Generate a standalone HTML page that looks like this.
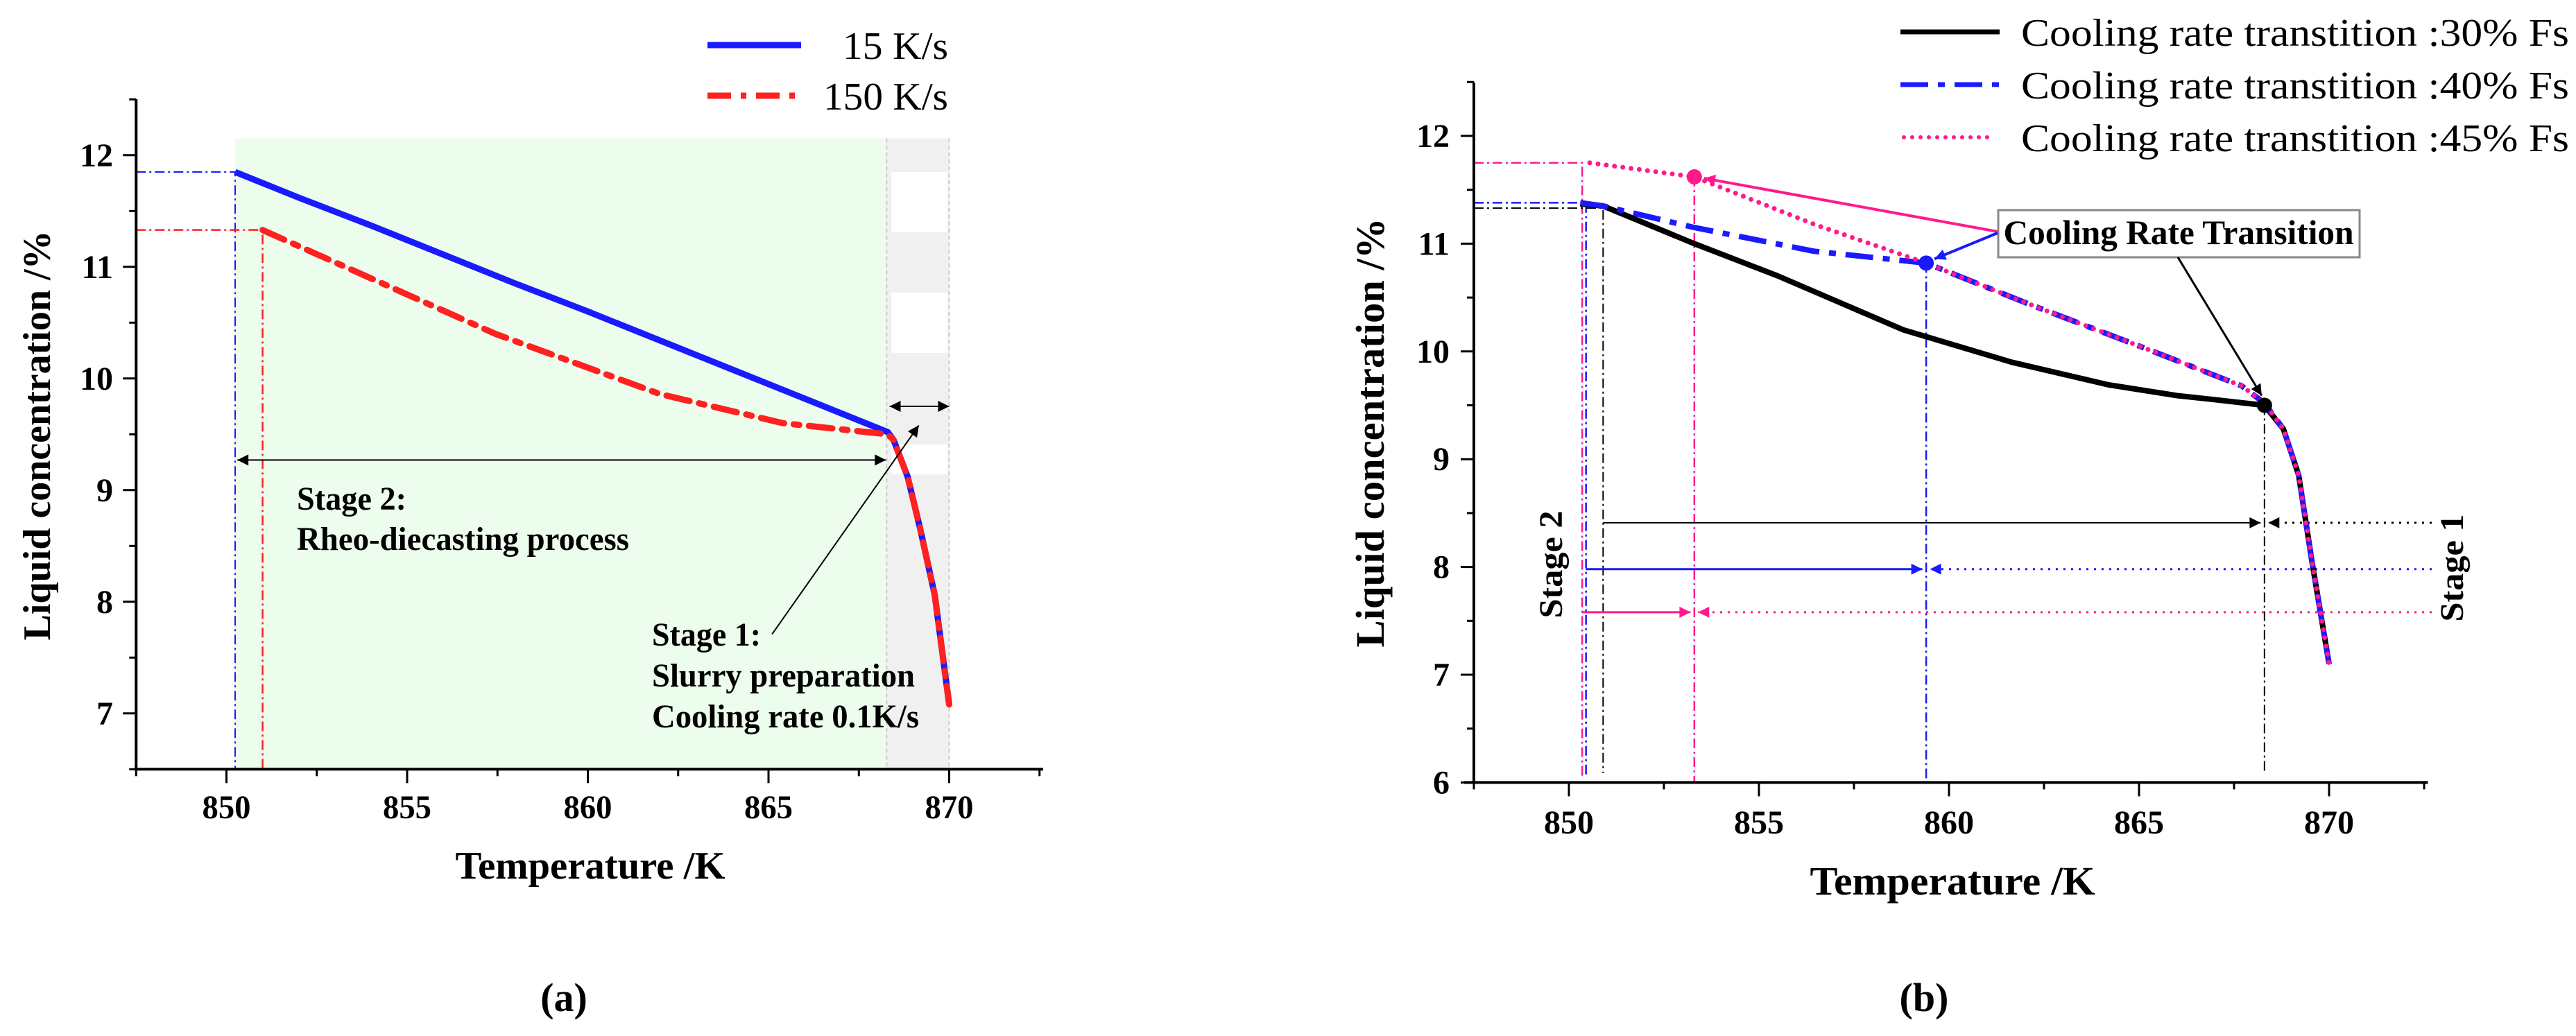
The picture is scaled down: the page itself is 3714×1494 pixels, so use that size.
<!DOCTYPE html>
<html><head><meta charset="utf-8">
<style>
html,body{margin:0;padding:0;background:#fff;}
svg{display:block;font-family:"Liberation Serif","DejaVu Serif",serif;}
svg text{font-family:"Liberation Serif","DejaVu Serif",serif;}
</style></head>
<body>
<svg id="fig" width="3714" height="1494" viewBox="0 0 3714 1494" xmlns="http://www.w3.org/2000/svg">
<defs>
<marker id="ahK2" viewBox="0 0 10 10" refX="10" refY="5" markerWidth="30" markerHeight="16" markerUnits="userSpaceOnUse" orient="auto-start-reverse"><path d="M0,0 L10,5 L0,10 z" fill="#000"/></marker>
<marker id="ahB" viewBox="0 0 10 10" refX="10" refY="5" markerWidth="30" markerHeight="16" markerUnits="userSpaceOnUse" orient="auto-start-reverse"><path d="M0,0 L10,5 L0,10 z" fill="#1a1aff"/></marker>
<marker id="ahP" viewBox="0 0 10 10" refX="10" refY="5" markerWidth="30" markerHeight="16" markerUnits="userSpaceOnUse" orient="auto-start-reverse"><path d="M0,0 L10,5 L0,10 z" fill="#ff1a8c"/></marker>
</defs>
</svg>
<script>
// ---- Chart (a) data ----
const aFastT = [850.24, 852, 854, 856, 858, 860, 862, 864, 866, 868.3, 868.46, 868.85, 869.2, 869.6, 870];
const aFastC = [11.85, 11.62, 11.37, 11.11, 10.85, 10.6, 10.34, 10.08, 9.82, 9.52, 9.45, 9.12, 8.65, 8.06, 7.08];
const aSlowT = [851, 853.56, 857.44, 862.0, 865.4, 868.3, 868.46, 868.85, 869.2, 869.6, 870];
const aSlowC = [11.33, 10.96, 10.40, 9.86, 9.60, 9.50, 9.45, 9.12, 8.65, 8.06, 7.08];
const aXTicks = [850, 855, 860, 865, 870];
const aYTicks = [7, 8, 9, 10, 11, 12];
// ---- Chart (b) data ----
const b30T = [850.3, 850.9, 853.3, 855.5, 858.8, 861.65, 864.2, 866.0, 866.8, 868.3, 868.8, 869.2, 869.55, 870];
const b30C = [11.37, 11.35, 11.0, 10.7, 10.2, 9.9, 9.69, 9.59, 9.56, 9.50, 9.28, 8.85, 8.05, 7.1];
const b40T = [850.3, 850.9, 853.3, 856.45, 859.4, 862.1, 865.3, 867.7, 868.3, 868.8, 869.2, 869.55, 870];
const b40C = [11.38, 11.35, 11.15, 10.93, 10.82, 10.44, 10.01, 9.68, 9.52, 9.28, 8.85, 8.05, 7.1];
const b45T = [850.55, 853.3, 856.45, 859.4, 862.1, 865.3, 867.7, 868.3, 868.8, 869.2, 869.55, 870];
const b45C = [11.75, 11.62, 11.18, 10.82, 10.44, 10.01, 9.68, 9.52, 9.28, 8.85, 8.05, 7.1];
const bTransT = [853.3, 859.4, 868.3];
const bTransC = [11.62, 10.82, 9.50];
const bXTicks = [850, 855, 860, 865, 870];
const bYTicks = [6, 7, 8, 9, 10, 11, 12];

const svg = document.getElementById('fig');
const NS = 'http://www.w3.org/2000/svg';
function mk(tag, attrs, name, parent) {
  const el = document.createElementNS(NS, tag);
  for (const k in attrs) el.setAttribute(k, attrs[k]);
  
  
  (parent || svg).appendChild(el);
  return el;
}
function txt(s, attrs, name, parent) { const t = mk('text', attrs, name, parent); t.textContent = s; return t; }

const ax = t => 326.5 + (t - 850) * 52.1;
const ay = v => 223.8 + (12 - v) * 161;
const bx = t => 2262 + (t - 850) * 54.8;
const by = v => 196 + (12 - v) * 155.4;
function pts(T, C, fx, fy) { return T.map((t, i) => fx(t).toFixed(1) + ',' + fy(C[i]).toFixed(1)).join(' '); }

// ================= Chart (a) =================
const ga = mk('g', {}, 'chart-a');
mk('rect', {x: ax(850.24), y: ay(12.15), width: ax(868.27) - ax(850.24), height: ay(6.5) - ay(12.15), fill: '#edfded'}, 'stage2-region', ga);
mk('rect', {x: ax(868.27), y: ay(12.15), width: ax(870) - ax(868.27), height: ay(6.5) - ay(12.15), fill: '#f0f0f0'}, 'stage1-region', ga);
mk('rect', {x: ax(868.4), y: ay(11.85), width: ax(869.95) - ax(868.4), height: ay(11.31) - ay(11.85), fill: '#fff'}, 'stage1-band', ga);
mk('rect', {x: ax(868.4), y: ay(10.77), width: ax(869.95) - ax(868.4), height: ay(10.23) - ay(10.77), fill: '#fff'}, 'stage1-band', ga);
mk('rect', {x: ax(868.4), y: ay(9.41), width: ax(869.95) - ax(868.4), height: ay(9.14) - ay(9.41), fill: '#fff'}, 'stage1-band', ga);
mk('line', {x1: ax(868.27), y1: ay(12.15), x2: ax(868.27), y2: ay(6.5), stroke: '#ccc', 'stroke-width': 2, 'stroke-dasharray': '6 4'}, 'region-border', ga);
mk('line', {x1: ax(870), y1: ay(12.15), x2: ax(870), y2: ay(6.5), stroke: '#ccc', 'stroke-width': 2, 'stroke-dasharray': '6 4'}, 'region-border', ga);
mk('polyline', {points: `${ax(847.5)},${ay(aFastC[0])} ${ax(aFastT[0])},${ay(aFastC[0])} ${ax(aFastT[0])},${ay(6.5)}`, fill: 'none', stroke: '#1a1aff', 'stroke-width': 2, 'stroke-dasharray': '14 5 3 5'}, 'guide-15ks', ga);
mk('polyline', {points: `${ax(847.5)},${ay(aSlowC[0])} ${ax(aSlowT[0])},${ay(aSlowC[0])} ${ax(aSlowT[0])},${ay(6.5)}`, fill: 'none', stroke: '#ff2020', 'stroke-width': 2.5, 'stroke-dasharray': '14 5 3 5'}, 'guide-150ks', ga);
mk('polyline', {points: pts(aFastT, aFastC, ax, ay), fill: 'none', stroke: '#1a1aff', 'stroke-width': 9, 'stroke-linejoin': 'round'}, 'series-15ks', ga);
mk('polyline', {points: pts(aSlowT, aSlowC, ax, ay), fill: 'none', stroke: '#ff2020', 'stroke-width': 9, 'stroke-dasharray': '34 14 8 14', 'stroke-linecap': 'round', 'stroke-linejoin': 'round'}, 'series-150ks', ga);
mk('line', {x1: ax(850.3), y1: ay(9.27), x2: ax(868.25), y2: ay(9.27), stroke: '#000', 'stroke-width': 2, 'marker-start': 'url(#ahK2)', 'marker-end': 'url(#ahK2)'}, 'stage2-span-arrow', ga);
mk('line', {x1: ax(868.35), y1: ay(9.75), x2: ax(870), y2: ay(9.75), stroke: '#000', 'stroke-width': 2, 'marker-start': 'url(#ahK2)', 'marker-end': 'url(#ahK2)'}, 'stage1-span-arrow', ga);
mk('line', {x1: ax(865.1), y1: ay(7.71), x2: ax(869.16), y2: ay(9.58), stroke: '#000', 'stroke-width': 2, 'marker-end': 'url(#ahK2)'}, 'stage1-pointer', ga);
txt('Stage 2:', {x: 428, y: 735, 'font-size': 48, 'font-weight': 'bold', textLength: 158, lengthAdjust: 'spacingAndGlyphs'}, 'stage2-label', ga);
txt('Rheo-diecasting process', {x: 428, y: 793, 'font-size': 48, 'font-weight': 'bold', textLength: 479, lengthAdjust: 'spacingAndGlyphs'}, 'stage2-desc', ga);
txt('Stage 1:', {x: 940, y: 931, 'font-size': 48, 'font-weight': 'bold', textLength: 157, lengthAdjust: 'spacingAndGlyphs'}, 'stage1-label', ga);
txt('Slurry preparation', {x: 940, y: 990, 'font-size': 48, 'font-weight': 'bold', textLength: 379, lengthAdjust: 'spacingAndGlyphs'}, 'stage1-desc', ga);
txt('Cooling rate 0.1K/s', {x: 940, y: 1049, 'font-size': 48, 'font-weight': 'bold', textLength: 385, lengthAdjust: 'spacingAndGlyphs'}, 'stage1-rate', ga);
mk('line', {x1: ax(847.5), y1: 143, x2: ax(847.5), y2: ay(6.5), stroke: '#000', 'stroke-width': 4}, 'y-axis-a', ga);
mk('line', {x1: ax(847.5) - 2, y1: ay(6.5), x2: ax(872.6), y2: ay(6.5), stroke: '#000', 'stroke-width': 4}, 'x-axis-a', ga);
for (let t = 847.5; t <= 872.6; t += 2.5) {
  const major = Math.abs(t % 5) < 0.01;
  mk('line', {x1: ax(t), y1: ay(6.5), x2: ax(t), y2: ay(6.5) + (major ? 20 : 10), stroke: '#000', 'stroke-width': 3}, 'x-tick', ga);
}
aXTicks.forEach(t => txt(String(t), {x: ax(t), y: 1180, 'font-size': 48, 'font-weight': 'bold', 'text-anchor': 'middle', textLength: 70, lengthAdjust: 'spacingAndGlyphs'}, 'x-tick-label', ga));
for (let v = 6.5; v <= 12.5; v += 0.5) {
  const major = Math.abs(v % 1) < 0.01;
  mk('line', {x1: ax(847.5), y1: ay(v), x2: ax(847.5) - (major ? 19 : 10), y2: ay(v), stroke: '#000', 'stroke-width': 3}, 'y-tick', ga);
}
aYTicks.forEach(v => txt(String(v), {x: 163, y: ay(v) + 16, 'font-size': 48, 'font-weight': 'bold', 'text-anchor': 'end'}, 'y-tick-label', ga));
txt('Temperature /K', {x: 851, y: 1267, 'font-size': 56, 'font-weight': 'bold', 'text-anchor': 'middle', textLength: 389, lengthAdjust: 'spacingAndGlyphs'}, 'x-axis-title-a', ga);
txt('Liquid concentration /%', {x: 0, y: 0, 'font-size': 56, 'font-weight': 'bold', 'text-anchor': 'middle', transform: 'translate(72,628) rotate(-90)', textLength: 591, lengthAdjust: 'spacingAndGlyphs'}, 'y-axis-title-a', ga);
mk('line', {x1: 1020, y1: 65, x2: 1155, y2: 65, stroke: '#1a1aff', 'stroke-width': 9}, 'legend-swatch-15ks', ga);
mk('line', {x1: 1020, y1: 138, x2: 1155, y2: 138, stroke: '#ff2020', 'stroke-width': 9, 'stroke-dasharray': '34 14 8 14'}, 'legend-swatch-150ks', ga);
txt('15 K/s', {x: 1367, y: 85, 'font-size': 56, 'text-anchor': 'end', textLength: 152, lengthAdjust: 'spacingAndGlyphs'}, 'legend-label-15ks', ga);
txt('150 K/s', {x: 1367, y: 158, 'font-size': 56, 'text-anchor': 'end', textLength: 180, lengthAdjust: 'spacingAndGlyphs'}, 'legend-label-150ks', ga);
txt('(a)', {x: 813, y: 1458, 'font-size': 58, 'font-weight': 'bold', 'text-anchor': 'middle'}, 'caption-a', ga);

// ================= Chart (b) =================
const gb = mk('g', {}, 'chart-b');
mk('polyline', {points: `${bx(847.5)},${by(11.75)} ${bx(850.35)},${by(11.75)} ${bx(850.35)},1120`, fill: 'none', stroke: '#ff1a8c', 'stroke-width': 2.5, 'stroke-dasharray': '14 5 3 5'}, 'guide-45-start', gb);
mk('polyline', {points: `${bx(847.5)},${by(11.38)} ${bx(850.45)},${by(11.38)} ${bx(850.45)},1120`, fill: 'none', stroke: '#1a1aff', 'stroke-width': 2.5, 'stroke-dasharray': '14 5 3 5'}, 'guide-40-start', gb);
mk('polyline', {points: `${bx(847.5)},${by(11.33)} ${bx(850.9)},${by(11.33)} ${bx(850.9)},1115`, fill: 'none', stroke: '#000', 'stroke-width': 2, 'stroke-dasharray': '14 5 3 5'}, 'guide-30-start', gb);
mk('line', {x1: bx(bTransT[0]), y1: by(bTransC[0]), x2: bx(bTransT[0]), y2: by(6), stroke: '#ff1a8c', 'stroke-width': 2.5, 'stroke-dasharray': '14 5 3 5'}, 'guide-45-transition', gb);
mk('line', {x1: bx(bTransT[1]), y1: by(bTransC[1]), x2: bx(bTransT[1]), y2: by(6), stroke: '#1a1aff', 'stroke-width': 2.5, 'stroke-dasharray': '14 5 3 5'}, 'guide-40-transition', gb);
mk('line', {x1: bx(bTransT[2]), y1: by(bTransC[2]), x2: bx(bTransT[2]), y2: 1112, stroke: '#000', 'stroke-width': 2, 'stroke-dasharray': '14 5 3 5'}, 'guide-30-transition', gb);
mk('line', {x1: bx(850.9), y1: by(8.41), x2: bx(868.2), y2: by(8.41), stroke: '#000', 'stroke-width': 2, 'marker-end': 'url(#ahK2)'}, 'stage2-arrow-30', gb);
mk('line', {x1: bx(872.7), y1: by(8.41), x2: bx(868.4), y2: by(8.41), stroke: '#000', 'stroke-width': 3, 'stroke-dasharray': '3 8', 'marker-end': 'url(#ahK2)'}, 'stage1-arrow-30', gb);
mk('line', {x1: bx(850.45), y1: by(7.98), x2: bx(859.3), y2: by(7.98), stroke: '#1a1aff', 'stroke-width': 3, 'marker-end': 'url(#ahB)'}, 'stage2-arrow-40', gb);
mk('line', {x1: bx(872.7), y1: by(7.98), x2: bx(859.5), y2: by(7.98), stroke: '#1a1aff', 'stroke-width': 3, 'stroke-dasharray': '3 8', 'marker-end': 'url(#ahB)'}, 'stage1-arrow-40', gb);
mk('line', {x1: bx(850.35), y1: by(7.58), x2: bx(853.2), y2: by(7.58), stroke: '#ff1a8c', 'stroke-width': 3, 'marker-end': 'url(#ahP)'}, 'stage2-arrow-45', gb);
mk('line', {x1: bx(872.7), y1: by(7.58), x2: bx(853.4), y2: by(7.58), stroke: '#ff1a8c', 'stroke-width': 3, 'stroke-dasharray': '3 8', 'marker-end': 'url(#ahP)'}, 'stage1-arrow-45', gb);
mk('polyline', {points: pts(b30T, b30C, bx, by), fill: 'none', stroke: '#000', 'stroke-width': 8, 'stroke-linejoin': 'round'}, 'series-30fs', gb);
mk('polyline', {points: pts(b40T, b40C, bx, by), fill: 'none', stroke: '#1a1aff', 'stroke-width': 8, 'stroke-dasharray': '40 14 10 14', 'stroke-linejoin': 'round'}, 'series-40fs', gb);
mk('polyline', {points: pts(b45T, b45C, bx, by), fill: 'none', stroke: '#ff1a8c', 'stroke-width': 7, 'stroke-dasharray': '0 12', 'stroke-linecap': 'round'}, 'series-45fs', gb);
const dotCol = ['#ff1a8c', '#1a1aff', '#000'];
bTransT.forEach((t, i) => mk('circle', {cx: bx(t), cy: by(bTransC[i]), r: 11, fill: dotCol[i]}, 'transition-marker', gb));
mk('rect', {x: 2881, y: 303, width: 521, height: 68, fill: '#fff', stroke: '#888', 'stroke-width': 3}, 'callout-box', gb);
txt('Cooling Rate Transition', {x: 3141, y: 352, 'font-size': 50, 'font-weight': 'bold', 'text-anchor': 'middle', textLength: 505, lengthAdjust: 'spacingAndGlyphs'}, 'callout-text', gb);
mk('line', {x1: 2880, y1: 334, x2: bx(bTransT[0]) + 14, y2: by(bTransC[0]) + 2, stroke: '#ff1a8c', 'stroke-width': 4, 'marker-end': 'url(#ahP)'}, 'callout-arrow-45', gb);
mk('line', {x1: 2880, y1: 336, x2: bx(bTransT[1]) + 12, y2: by(bTransC[1]) - 6, stroke: '#1a1aff', 'stroke-width': 4, 'marker-end': 'url(#ahB)'}, 'callout-arrow-40', gb);
mk('line', {x1: 3140, y1: 371, x2: bx(bTransT[2]) - 4, y2: by(bTransC[2]) - 14, stroke: '#000', 'stroke-width': 3, 'marker-end': 'url(#ahK2)'}, 'callout-arrow-30', gb);
txt('Stage 2', {x: 0, y: 0, 'font-size': 48, 'font-weight': 'bold', 'text-anchor': 'middle', transform: 'translate(2252,814) rotate(-90)', textLength: 155, lengthAdjust: 'spacingAndGlyphs'}, 'stage2-label-b', gb);
txt('Stage 1', {x: 0, y: 0, 'font-size': 48, 'font-weight': 'bold', 'text-anchor': 'middle', transform: 'translate(3551,819) rotate(-90)', textLength: 155, lengthAdjust: 'spacingAndGlyphs'}, 'stage1-label-b', gb);
mk('line', {x1: bx(847.5), y1: 119, x2: bx(847.5), y2: by(6), stroke: '#000', 'stroke-width': 4}, 'y-axis-b', gb);
mk('line', {x1: bx(847.5) - 14, y1: by(6), x2: bx(872.6), y2: by(6), stroke: '#000', 'stroke-width': 4}, 'x-axis-b', gb);
for (let t = 847.5; t <= 872.6; t += 2.5) {
  const major = Math.abs(t % 5) < 0.01;
  mk('line', {x1: bx(t), y1: by(6), x2: bx(t), y2: by(6) + (major ? 20 : 10), stroke: '#000', 'stroke-width': 3}, 'x-tick', gb);
}
bXTicks.forEach(t => txt(String(t), {x: bx(t), y: 1202, 'font-size': 48, 'font-weight': 'bold', 'text-anchor': 'middle', textLength: 72, lengthAdjust: 'spacingAndGlyphs'}, 'x-tick-label', gb));
for (let v = 6; v <= 12.5; v += 0.5) {
  const major = Math.abs(v % 1) < 0.01;
  mk('line', {x1: bx(847.5), y1: by(v), x2: bx(847.5) - (major ? 19 : 10), y2: by(v), stroke: '#000', 'stroke-width': 3}, 'y-tick', gb);
}
bYTicks.forEach(v => txt(String(v), {x: 2090, y: by(v) + 16, 'font-size': 48, 'font-weight': 'bold', 'text-anchor': 'end'}, 'y-tick-label', gb));
txt('Temperature /K', {x: 2815, y: 1290, 'font-size': 58, 'font-weight': 'bold', 'text-anchor': 'middle', textLength: 411, lengthAdjust: 'spacingAndGlyphs'}, 'x-axis-title-b', gb);
txt('Liquid concentration /%', {x: 0, y: 0, 'font-size': 58, 'font-weight': 'bold', 'text-anchor': 'middle', transform: 'translate(1995,624) rotate(-90)', textLength: 619, lengthAdjust: 'spacingAndGlyphs'}, 'y-axis-title-b', gb);
mk('line', {x1: 2740, y1: 46, x2: 2883, y2: 46, stroke: '#000', 'stroke-width': 7}, 'legend-swatch-30fs', gb);
mk('line', {x1: 2740, y1: 122, x2: 2883, y2: 122, stroke: '#1a1aff', 'stroke-width': 7, 'stroke-dasharray': '40 14 10 14'}, 'legend-swatch-40fs', gb);
mk('line', {x1: 2745, y1: 198, x2: 2870, y2: 198, stroke: '#ff1a8c', 'stroke-width': 6, 'stroke-dasharray': '0 12', 'stroke-linecap': 'round'}, 'legend-swatch-45fs', gb);
txt('Cooling rate transtition :30% Fs', {x: 2914, y: 66, 'font-size': 56, textLength: 790, lengthAdjust: 'spacingAndGlyphs'}, 'legend-label-30fs', gb);
txt('Cooling rate transtition :40% Fs', {x: 2914, y: 142, 'font-size': 56, textLength: 790, lengthAdjust: 'spacingAndGlyphs'}, 'legend-label-40fs', gb);
txt('Cooling rate transtition :45% Fs', {x: 2914, y: 218, 'font-size': 56, textLength: 790, lengthAdjust: 'spacingAndGlyphs'}, 'legend-label-45fs', gb);
txt('(b)', {x: 2774, y: 1458, 'font-size': 58, 'font-weight': 'bold', 'text-anchor': 'middle'}, 'caption-b', gb);
</script>
</body></html>
